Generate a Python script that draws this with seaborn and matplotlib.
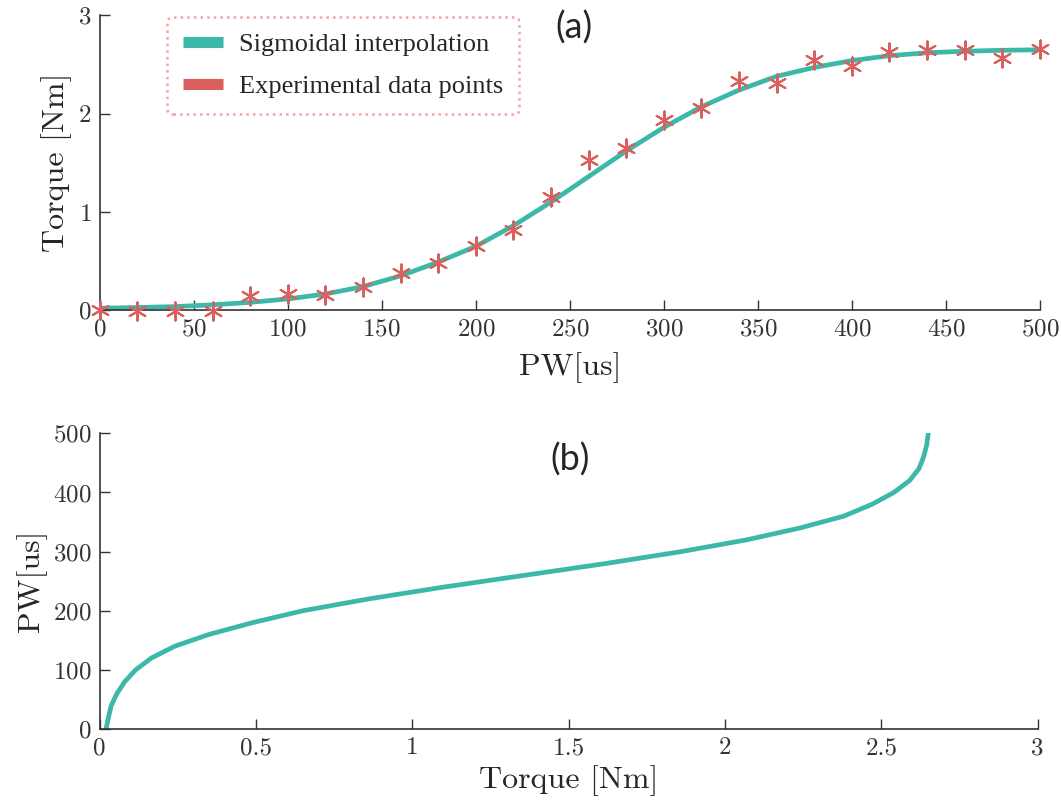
import numpy as np
import pandas as pd
import matplotlib
matplotlib.use("Agg")
import matplotlib.pyplot as plt
import seaborn as sns
from matplotlib.lines import Line2D

# experimental data (panel a)
exp_pw = [0, 20, 40, 60, 80, 100, 120, 140, 160, 180, 200, 220, 240, 260,
          280, 300, 320, 340, 360, 380, 400, 420, 440, 460, 480, 500]
exp_torque = [0.0, -0.005, -0.005, -0.01, 0.14, 0.17, 0.15, 0.24, 0.38, 0.48,
              0.65, 0.82, 1.15, 1.53, 1.65, 1.94, 2.06, 2.33, 2.31, 2.55,
              2.48, 2.63, 2.65, 2.65, 2.57, 2.66]

# sigmoid fit
fit_pw = [0, 20, 40, 60, 80, 100, 120, 140, 160, 180, 200, 220, 240, 260,
          280, 300, 320, 340, 360, 380, 400, 420, 440, 460, 480, 500]
fit_torque = [0.02, 0.028, 0.037, 0.055, 0.08, 0.115, 0.165, 0.24, 0.35, 0.49,
              0.65, 0.86, 1.10, 1.36, 1.62, 1.86, 2.07, 2.24, 2.38, 2.47,
              2.54, 2.59, 2.62, 2.635, 2.645, 2.65]

teal = "#3bb8a8"
red = "#d9605f"
axis_col = "#333333"

sns.set_theme(style="white")
plt.rcParams["font.family"] = "cmr10"
plt.rcParams["axes.formatter.use_mathtext"] = True
plt.rcParams["axes.edgecolor"] = axis_col
plt.rcParams["xtick.color"] = axis_col
plt.rcParams["ytick.color"] = axis_col

fit_df = pd.DataFrame({"pw": fit_pw, "torque": fit_torque})
exp_df = pd.DataFrame({"pw": exp_pw, "torque": exp_torque})

fig = plt.figure(figsize=(10.61, 8.10), dpi=100)
ax1 = fig.add_axes([0.094, 0.617, 0.886, 0.364])
ax2 = fig.add_axes([0.094, 0.100, 0.884, 0.365])

# (a) torque vs PW
sns.lineplot(data=fit_df, x="pw", y="torque", ax=ax1, color=teal, lw=3.4,
             sort=False, zorder=2)
sns.scatterplot(data=exp_df, x="pw", y="torque", ax=ax1, marker=(6, 2, 0),
                s=170, color=red, edgecolor=red, linewidth=1.5, zorder=3,
                clip_on=False)
ax1.set_xlim(0, 500)
ax1.set_ylim(0, 3)
ax1.set_xticks(np.arange(0, 501, 50))
ax1.set_yticks([0, 1, 2, 3])
ax1.set_xlabel("PW[us]", fontsize=23, labelpad=8)
ax1.set_ylabel("Torque [Nm]", fontsize=23, labelpad=4)
ax1.text(0.504, 1.015, "(a)", transform=ax1.transAxes, fontsize=26,
         family="Lato", ha="center", va="top")

handles = [Line2D([0], [0], color=teal, lw=8, solid_capstyle="butt"),
           Line2D([0], [0], color=red, lw=8, solid_capstyle="butt")]
leg = ax1.legend(handles, ["Sigmoidal interpolation", "Experimental data points"],
                 loc="upper left", bbox_to_anchor=(0.072, 0.995),
                 borderaxespad=0,
                 prop={"family": "Liberation Serif", "size": 19},
                 handlelength=1.5, handletextpad=0.6, labelspacing=0.7,
                 borderpad=0.6, frameon=True, fancybox=True)
frame = leg.get_frame()
frame.set_edgecolor("#f28c8c")
frame.set_linestyle(":")
frame.set_linewidth(1.8)

# (b) PW vs torque (inverse)
sns.lineplot(data=fit_df, x="torque", y="pw", ax=ax2, color=teal, lw=3.4,
             sort=False)
ax2.set_xlim(0, 3)
ax2.set_ylim(0, 500)
ax2.set_xticks([0, 0.5, 1, 1.5, 2, 2.5, 3])
ax2.set_xticklabels(["0", "0.5", "1", "1.5", "2", "2.5", "3"])
ax2.set_yticks(np.arange(0, 501, 100))
ax2.set_xlabel("Torque [Nm]", fontsize=23, labelpad=4)
ax2.set_ylabel("PW[us]", fontsize=23, labelpad=4)
ax2.text(0.501, 0.97, "(b)", transform=ax2.transAxes, fontsize=26,
         family="Lato", ha="center", va="top")

for ax in (ax1, ax2):
    sns.despine(ax=ax)
    ax.tick_params(direction="in", length=7.5, width=1, labelsize=18,
                   bottom=True, left=True, pad=6)
    for s in ("left", "bottom"):
        ax.spines[s].set_linewidth(1.2)

fig.savefig("out.png", dpi=100)
